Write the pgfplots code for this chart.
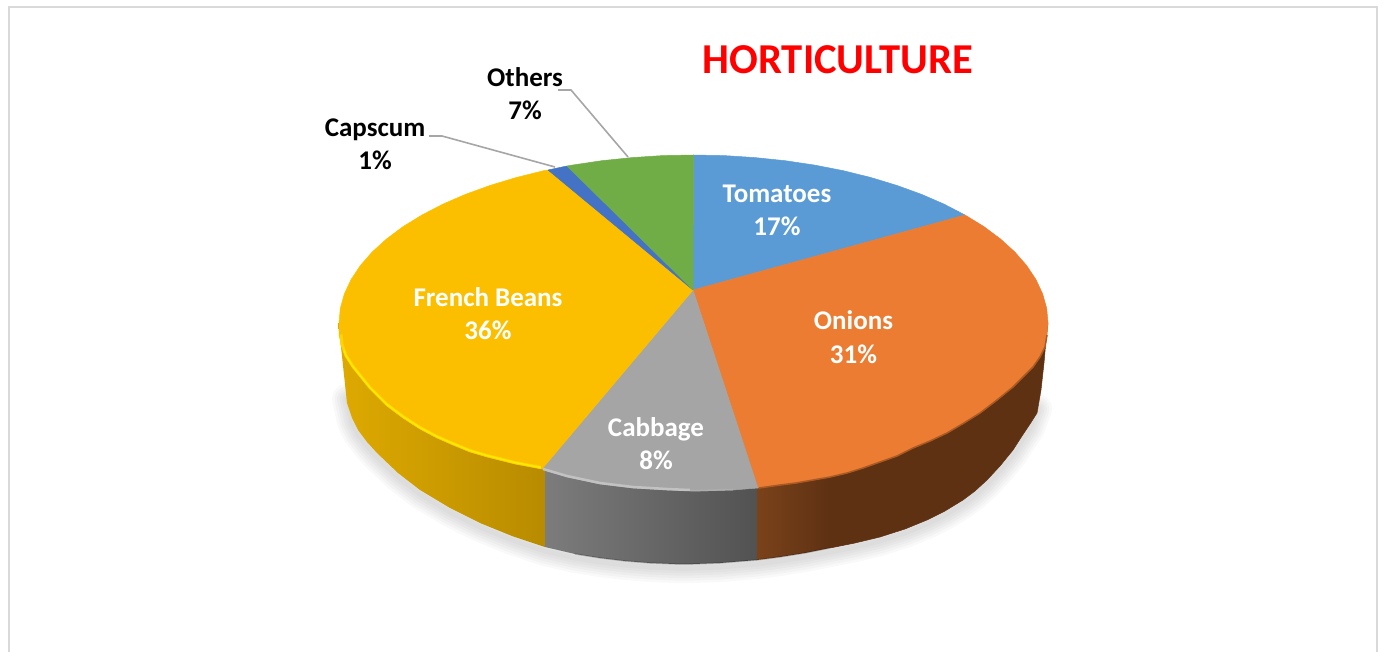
\documentclass[border=0pt]{standalone}
\usepackage{pgfplots}
\pgfplotsset{compat=1.18}
\usepackage{fontspec}
\setmainfont{Carlito}
\definecolor{cTom}{HTML}{5B9BD5}
\definecolor{cOni}{HTML}{EB7C32}
\definecolor{cCab}{HTML}{A5A5A5}
\definecolor{cBea}{HTML}{FCBF00}
\definecolor{cCap}{HTML}{4472C4}
\definecolor{cOth}{HTML}{70AD47}
\definecolor{yA}{HTML}{DEAA00}
\definecolor{yB}{HTML}{B88B00}
\definecolor{gA}{HTML}{7C7C7C}
\definecolor{gB}{HTML}{525252}
\definecolor{oA}{HTML}{7A421A}
\definecolor{oB}{HTML}{5E3113}
\tikzset{poly/.style={fill=#1,draw=#1,line width=0.5pt,mark=none,line join=round},
 lab/.style={anchor=base,font=\bfseries\fontsize{27}{30}\selectfont,text=#1,inner sep=0pt}}
\begin{document}
\begin{tikzpicture}
\begin{axis}[
  scale only axis, width=1384pt, height=652pt,
  xmin=0, xmax=1384, ymin=0, ymax=652, y dir=reverse,
  hide axis, clip=true]
% page extent
\addplot[draw=none,mark=none] coordinates {(0,0) (1384,0) (1384,652) (0,652)} --cycle;
% frame
\addplot[draw=black!15,line width=2.5pt,mark=none] coordinates {(9,660) (9,7) (1377,7) (1377,660)};
% shadow
\pgfplotsinvokeforeach{30,25,20,15,10,5}{
\addplot[draw=black,opacity=0.024,line width=#1pt,mark=none,line join=round,line cap=round,yshift=-4pt] coordinates {
(347,395) (352,418) (358,430) (367,442) (377,453) (398,473) (420,490) (450,508) (480,523) (512,536) (545,547)
(575,554) (600,558) (625,561) (650,563) (675,564) (693,564) (720,563) (757,560) (780,557) (805,553) (830,548) (855,543)
(880,537) (905,529) (927,520) (945,511) (963,500) (975,491) (987,480) (1000,466) (1013,450) (1022,436) (1030,424) (1037,405)};
}
% side: French Beans
\addplot[left color=yA,right color=yB,draw=none,mark=none] coordinates {(338,323) (545,323) (545,547) (512,536) (480,523) (450,508) (420,490) (398,473) (377,453) (367,442) (358,430) (352,418) (347,403) (344,375) (341,347)} --cycle;
% side: Cabbage
\addplot[left color=gA,right color=gB,draw=none,mark=none] coordinates {(545,440) (757,440) (757,560) (720,563) (693,564) (675,564) (650,563) (625,561) (600,558) (575,554) (545,547)} --cycle;
% side: Onions
\addplot[left color=oA,right color=oB,draw=none,mark=none] coordinates {(757,400) (830,400) (830,548) (805,553) (780,557) (757,560)} --cycle;
\addplot[poly={oB}] coordinates {(830,400) (990,400) (990,323) (1048,323) (1046,340) (1044,363) (1041,390) (1037,413) (1030,424) (1022,436) (1013,450)
 (1000,466) (987,480) (975,491) (963,500) (945,511) (927,520) (905,529) (880,537) (855,543) (830,548)} --cycle;
% dark edge along the bottom
\addplot[draw=black,opacity=0.18,line width=1.5pt,mark=none] coordinates {(575,554) (600,558) (625,561) (650,563) (675,564) (693,564) (720,563) (757,560) (780,557) (805,553) (830,548)};
% top: Tomatoes
\addplot[poly={cTom}] coordinates {(693,290) (693.5,155) (724.4,155.6) (755,157.6) (785.2,160.7) (814.7,165.1) (843.3,170.7) (870.8,177.5) (896.8,185.4) (921.4,194.3) (944.2,204.2) (965,215)} --cycle;
% top: Onions
\addplot[poly={cOni}] coordinates {(693,290) (965,215) (983.9,226.6) (1000.5,239) (1014.8,252) (1026.6,265.5) (1035.9,279.5) (1042.6,293.8) (1046.7,308.4) (1048,323)
 (1047,335) (1045,347) (1040,357) (1033,367) (1023,377) (1013,387) (997,400) (980,413) (964,423) (947,433) (930,441) (913,448) (897,456) (880,462) (863,468) (847,473) (830,477) (813,480) (796,483) (780,485) (758,488)} --cycle;
% top: Cabbage
\addplot[poly={cCab}] coordinates {(693,290) (758,488) (733,490) (700,491) (667,490) (633,488) (600,484) (567,477) (542,469)} --cycle;
% top: French Beans
\addplot[poly={cBea}] coordinates {(693,290) (542,469) (515,464) (487,457) (470,452) (453,445) (437,438) (420,429) (403,418) (387,406) (370,389) (353,368) (346,357) (342,346) (339,335) (339,323)
 (340.3,308.4) (344.4,293.8) (351.1,279.5) (360.4,265.5) (372.2,252) (386.5,239) (403.1,226.6) (422,215) (442.8,204.2) (465.6,194.3) (490.2,185.4) (516.3,177.5) (543.7,170.7) (548,170)} --cycle;
% top: Capscum
\addplot[poly={cCap}] coordinates {(693,290) (548,170) (567,166)} --cycle;
% top: Others
\addplot[poly={cOth}] coordinates {(693,290) (567,166) (572.3,165.1) (601.8,160.7) (632,157.6) (662.6,155.6) (693.5,155)} --cycle;
% bevel
\addplot[draw=cBea!65!yellow,line width=3pt,mark=none,line join=round,yshift=1.5pt] coordinates {(341,336) (342,346) (346,357) (353,368) (370,389) (387,406) (403,418) (420,429) (437,438) (453,445) (470,452) (487,457) (515,464) (541,469)};
\addplot[draw=yellow!85!cBea,line width=1.4pt,mark=none,line join=round,yshift=1.5pt] coordinates {(344,352) (346,357) (353,368) (370,389) (387,406) (403,418) (420,429) (437,438) (453,445) (470,452) (487,457) (515,464) (541,469)};
\addplot[draw=black!24,line width=2.5pt,mark=none,line join=round,yshift=1pt] coordinates {(543,470) (567,477) (600,484) (633,488) (667,490) (690,491)};
\addplot[draw=black!32,line width=1.5pt,mark=none,line join=round,yshift=0.5pt] coordinates {(690,491) (700,491) (733,490)};
\addplot[draw=cOni!72!black,line width=1.5pt,mark=none,line join=round] coordinates {(1047,335) (1045,347) (1040,357) (1033,367) (1023,377) (1013,387) (997,400) (980,413) (964,423) (947,433) (930,441) (913,448) (897,456) (880,462) (863,468) (847,473) (830,477) (813,480) (796,483) (780,485) (759,488)};
% leader lines
\addplot[draw=black!35,line width=1.6pt,mark=none] coordinates {(558,90) (571,90) (628,157)};
\addplot[draw=black!35,line width=1.6pt,mark=none] coordinates {(429,136) (442,136) (555,167)};
% labels
\node[lab=white] at (axis cs:777,203) {Tomatoes};
\node[lab=white] at (axis cs:777,236) {17\%};
\node[lab=white] at (axis cs:853.5,330) {Onions};
\node[lab=white] at (axis cs:853.5,363) {31\%};
\node[lab=white] at (axis cs:656,436.5) {Cabbage};
\node[lab=white] at (axis cs:656,469.5) {8\%};
\node[lab=white] at (axis cs:488,306) {French Beans};
\node[lab=white] at (axis cs:488,339) {36\%};
\node[lab=black] at (axis cs:525,87) {Others};
\node[lab=black] at (axis cs:525,120) {7\%};
\node[lab=black] at (axis cs:375,136.5) {Capscum};
\node[lab=black] at (axis cs:375,169.5) {1\%};
\node[anchor=base,inner sep=0pt,font=\bfseries\fontsize{42.6}{46}\selectfont,text=red] at (axis cs:838,74) {HORTICULTURE};
\end{axis}
\end{tikzpicture}
\end{document}
